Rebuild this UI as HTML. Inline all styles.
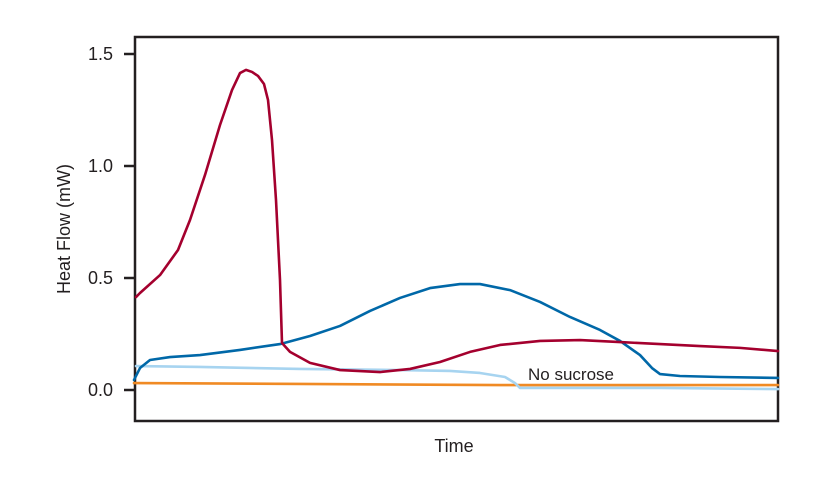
<!DOCTYPE html>
<html><head><meta charset="utf-8"><style>
html,body{margin:0;padding:0;background:#fff;}
svg{display:block;font-family:"Liberation Sans",sans-serif;}
</style></head><body>
<svg id="chart" width="830" height="493">
<rect x="135" y="37" width="643" height="384" fill="none" stroke="#231f20" stroke-width="2.5"/>
<g id="yaxis"></g>
<g id="series"></g>
<text x="70" y="229" transform="rotate(-90 70 229)" text-anchor="middle" font-size="18" fill="#231f20">Heat Flow (mW)</text>
<text x="454" y="452" text-anchor="middle" font-size="18" fill="#231f20">Time</text>
<text x="528" y="380" font-size="17" fill="#231f20">No sucrose</text>
</svg>
<script>
const yTicks=[0,0.5,1.0,1.5];
const yTickLabels=["0.0","0.5","1.0","1.5"];
const redT=[2,6,26,44,56,71,86,98,106,112,118,124,130,134,138,142,146,148,156,176,206,246,276,306,336,366,406,446,486,526,566,606,644];
const redV=[0.415,0.433,0.513,0.625,0.759,0.960,1.183,1.339,1.415,1.429,1.420,1.402,1.366,1.295,1.116,0.848,0.491,0.210,0.170,0.121,0.089,0.080,0.094,0.125,0.170,0.201,0.219,0.223,0.214,0.205,0.196,0.188,0.174];
const blueT=[0,6,16,36,66,106,146,176,206,236,266,296,326,346,376,406,436,466,486,506,518,526,546,586,644];
const blueV=[0.045,0.098,0.134,0.147,0.156,0.179,0.205,0.241,0.286,0.353,0.411,0.455,0.473,0.473,0.446,0.393,0.326,0.268,0.219,0.156,0.098,0.071,0.0625,0.058,0.054];
const lightT=[2,66,166,266,316,346,371,381,386,426,526,644];
const lightV=[0.107,0.103,0.094,0.089,0.085,0.076,0.058,0.031,0.009,0.009,0.009,0.004];
const orangeT=[0,166,366,644];
const orangeV=[0.031,0.027,0.022,0.022];

const NS="http://www.w3.org/2000/svg";
function xs(t){return 134+t;}
function ys(v){return 390-v*224;}
const ya=document.getElementById('yaxis');
yTicks.forEach((v,i)=>{
  const l=document.createElementNS(NS,'line');
  l.setAttribute('x1',124);l.setAttribute('x2',135);
  l.setAttribute('y1',ys(v));l.setAttribute('y2',ys(v));
  l.setAttribute('stroke','#231f20');l.setAttribute('stroke-width','2.5');
  
  
  ya.appendChild(l);
  const t=document.createElementNS(NS,'text');
  t.setAttribute('x',113);t.setAttribute('y',ys(v)+6);
  t.setAttribute('text-anchor','end');t.setAttribute('font-size','18');t.setAttribute('fill','#231f20');
  t.textContent=yTickLabels[i];
  
  
  ya.appendChild(t);
});
const sg=document.getElementById('series');
function draw(T,V,color,name){
  const p=document.createElementNS(NS,'polyline');
  p.setAttribute('points',T.map((t,i)=>xs(t)+','+ys(V[i])).join(' '));
  p.setAttribute('fill','none');p.setAttribute('stroke',color);p.setAttribute('stroke-width','2.6');
  p.setAttribute('stroke-linejoin','round');p.setAttribute('stroke-linecap','round');
  
  
  sg.appendChild(p);
}
draw(orangeT,orangeV,'#f08a24','orange-series-no-sucrose');
draw(lightT,lightV,'#a7d4f0','light-blue-series');
draw(blueT,blueV,'#0068a8','dark-blue-series');
draw(redT,redV,'#a4002e','red-series');
</script>
</body></html>
